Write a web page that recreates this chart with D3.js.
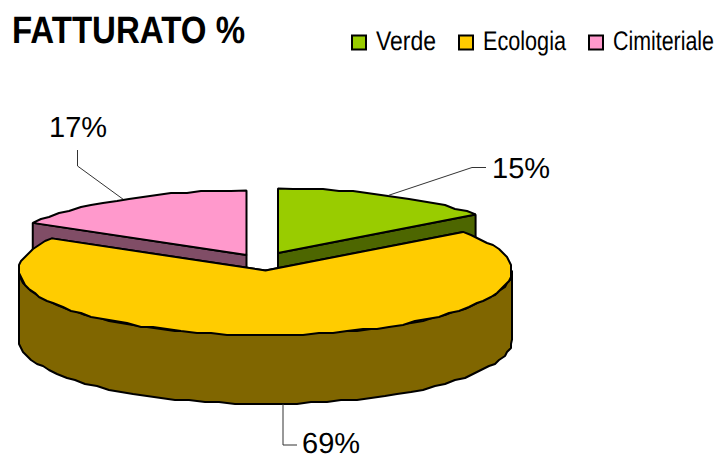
<!DOCTYPE html>
<html><head><meta charset="utf-8">
<script src="https://cdn.jsdelivr.net/npm/d3@7"></script>
<style>html,body{margin:0;padding:0;background:#fff}svg{display:block}text{font-family:"Liberation Sans",Arial,sans-serif;fill:#000;text-rendering:geometricPrecision}</style>
</head><body><svg id="c" width="719" height="454"></svg>
<script>
const categories = ["Verde", "Ecologia", "Cimiteriale"];
const values = [14.8, 68.5, 16.7];
const valueLabels = ["15%", "69%", "17%"];
const topColors = ["#99CC00", "#FFCC00", "#FF99CC"];
const sideColors = ["#4D6600", "#806600", "#804D66"];
const titleText = "FATTURATO %";

const svg = d3.select("#c");
const x = d3.scaleLinear().domain([-1, 1]).range([19, 512]);
const y = d3.scaleLinear().domain([-1, 1]).range([206, 335]);
const depth = 69;
const offsets = [[12.5, -17.5], [0, 0], [-19, -15.5]];
const pie = d3.pie().value(d => d).sort(null)(values);

const snapOdd = v => Math.round((v - 1) / 2) * 2 + 1;
const px = (a, o) => x(Math.sin(a)) + o[0];
const py = (a, o) => y(-Math.cos(a)) + o[1];
function arcPoints(a0, a1, o) {
  const n = Math.max(2, Math.round(Math.abs(a1 - a0) / (3.6 * Math.PI / 180)));
  const pts = d3.range(n + 1).map(i => {
    const a = a0 + (a1 - a0) * i / n;
    const ex = [px(a, o), py(a, o)];
    return (i === 0 || i === n) ? ex : [snapOdd(ex[0]), snapOdd(ex[1])];
  });
  return pts.filter((p, i) => i === 0 || p[0] !== pts[i - 1][0] || p[1] !== pts[i - 1][1]);
}
const line = d3.line();
const poly = (pts, fill) => svg.append("path").attr("d", line(pts) + "Z")
  .attr("fill", fill).attr("stroke", "#000").attr("stroke-width", 2).attr("stroke-linejoin", "bevel");

function drawSlice(i) {
  const s = pie[i], o = offsets[i];
  const apex = [x(0) + o[0], y(0) + o[1]];
  const corner = a => [px(a, o), py(a, o)];
  const down = p => [p[0], p[1] + depth];
  [s.startAngle, s.endAngle].forEach(a => {
    const c = corner(a);
    if (a > 0 && a < 2 * Math.PI) poly([apex, c, down(c), down(apex)], sideColors[i]);
  });
  const f0 = Math.max(s.startAngle, Math.PI / 2), f1 = Math.min(s.endAngle, 3 * Math.PI / 2);
  if (f1 > f0) {
    const rim = arcPoints(f0, f1, o);
    poly(rim.concat(rim.slice().reverse().map(down)), sideColors[i]);
  }
  poly([apex].concat(arcPoints(s.startAngle, s.endAngle, o)), topColors[i]);
}
[2, 0, 1].forEach(drawSlice);

const mid = s => (s.startAngle + s.endAngle) / 2;
const leaderStyle = sel => sel.attr("fill", "none").attr("stroke", "#333").attr("stroke-width", 1);
const anchor = (i, extra) => [px(mid(pie[i]), offsets[i]), py(mid(pie[i]), offsets[i]) + extra];
const a0 = anchor(0, 0), a1 = anchor(1, depth), a2 = anchor(2, 0);
leaderStyle(svg.append("path")).attr("d", line([a0, [472, 167.5], [486, 167.5]]));
leaderStyle(svg.append("path")).attr("d", line([[283, a1[1]], [283, 445], [297, 445]]));
leaderStyle(svg.append("path")).attr("d", line([a2, [77.5, 166], [77.5, 150]]));

const labelPos = [[492, 178], [302, 453], [49, 137]];
valueLabels.forEach((t, i) => svg.append("text").attr("x", labelPos[i][0]).attr("y", labelPos[i][1])
  .attr("font-size", 29).text(t));

function squeezed(str, tx, ty, size, width, weight) {
  const t = svg.append("text").attr("font-size", size).attr("font-weight", weight).text(str);
  const natural = t.node().getComputedTextLength();
  t.attr("transform", `translate(${tx},${ty}) scale(${width / natural},1)`);
}
squeezed(titleText, 12, 43, 38, 233, "bold");

const legendBox = [352, 459, 589];
const legendText = [376, 483, 613];
const legendLen = [60, 83, 101];
categories.forEach((c, i) => {
  svg.append("rect").attr("x", legendBox[i]).attr("y", 35.5).attr("width", 14).attr("height", 14)
    .attr("fill", topColors[i]).attr("stroke", "#000").attr("stroke-width", 2);
  squeezed(c, legendText[i], 49.5, 27, legendLen[i], "normal");
});
</script></body></html>
